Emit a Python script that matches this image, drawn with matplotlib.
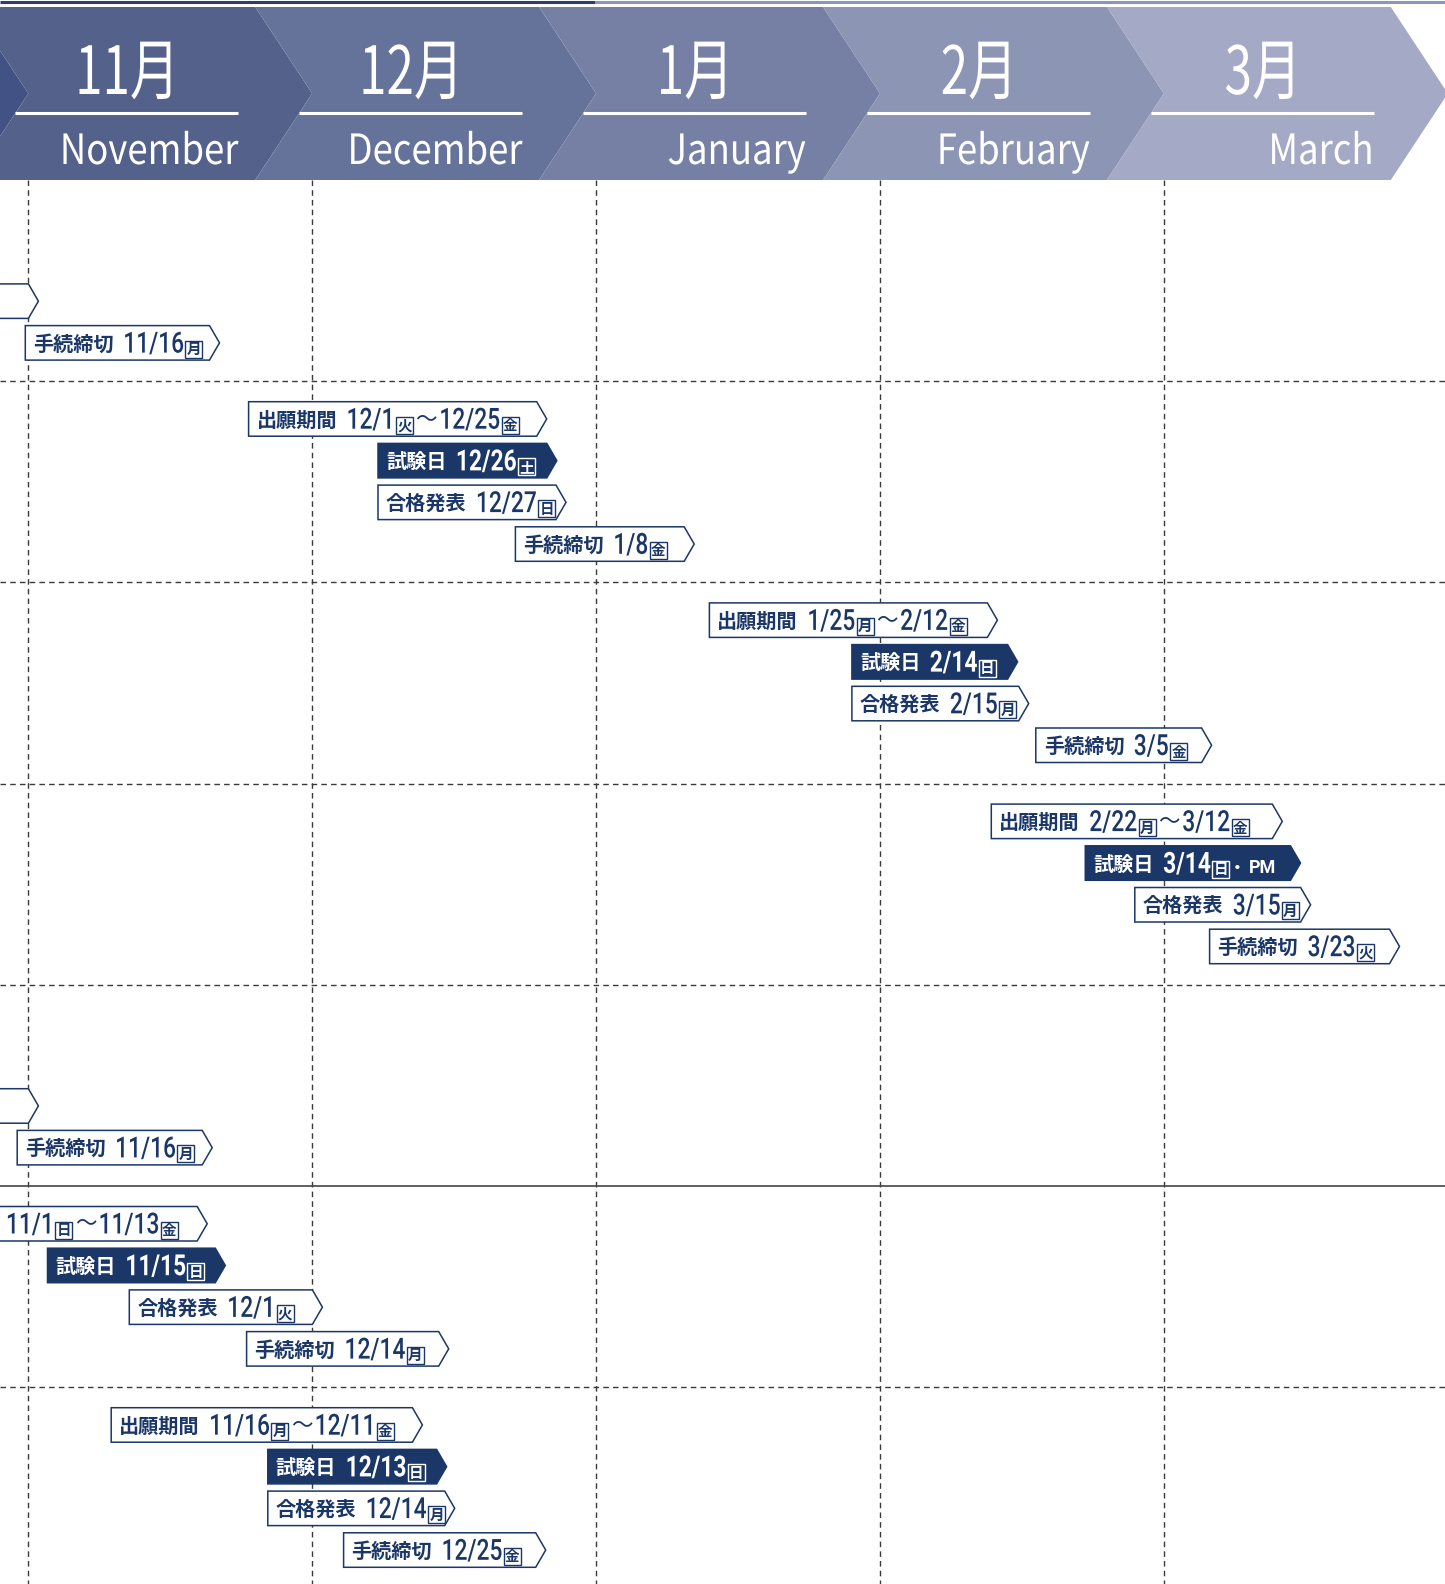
import matplotlib
matplotlib.use('Agg')
import matplotlib.pyplot as plt
from matplotlib.patches import Polygon, Rectangle
from matplotlib.patheffects import AbstractPathEffect
from matplotlib.transforms import Affine2D
from matplotlib.font_manager import FontProperties

# ---------------- data ----------------
months_jp = ['11月', '12月', '1月', '2月', '3月']
months_en = ['November', 'December', 'January', 'February', 'March']
kinds = ['出願期間', '試験日', '合格発表', '手続締切']

# (row, kind, [(date, weekday), ...], suffix)
events = [
    (0, '合格発表', None, None),
    (0, '手続締切', [('11/16', '月')], None),
    (1, '出願期間', [('12/1', '火'), ('12/25', '金')], None),
    (1, '試験日', [('12/26', '土')], None),
    (1, '合格発表', [('12/27', '日')], None),
    (1, '手続締切', [('1/8', '金')], None),
    (2, '出願期間', [('1/25', '月'), ('2/12', '金')], None),
    (2, '試験日', [('2/14', '日')], None),
    (2, '合格発表', [('2/15', '月')], None),
    (2, '手続締切', [('3/5', '金')], None),
    (3, '出願期間', [('2/22', '月'), ('3/12', '金')], None),
    (3, '試験日', [('3/14', '日')], 'PM'),
    (3, '合格発表', [('3/15', '月')], None),
    (3, '手続締切', [('3/23', '火')], None),
    (4, '合格発表', None, None),
    (4, '手続締切', [('11/16', '月')], None),
    (5, '出願期間', [('11/1', '日'), ('11/13', '金')], None),
    (5, '試験日', [('11/15', '日')], None),
    (5, '合格発表', [('12/1', '火')], None),
    (5, '手続締切', [('12/14', '月')], None),
    (6, '出願期間', [('11/16', '月'), ('12/11', '金')], None),
    (6, '試験日', [('12/13', '日')], None),
    (6, '合格発表', [('12/14', '月')], None),
    (6, '手続締切', [('12/25', '金')], None),
]

# ---------------- layout (pixels) ----------------
box_x = [
    (-300, 38.4), (25.3, 219.5),
    (248.6, 546.7), (378.0, 556.8), (378.0, 566.0), (515.4, 694.2),
    (709.4, 997.4), (851.9, 1017.6), (851.9, 1028.7), (1035.8, 1211.6),
    (991.3, 1282.3), (1085.3, 1300.5), (1134.8, 1310.6), (1209.6, 1399.5),
    (-300, 38.4), (17.2, 212.2),
    (-92.0, 207.2), (47.5, 225.3), (129.3, 322.4), (246.6, 448.7),
    (111.2, 422.4), (267.8, 446.6), (267.8, 454.7), (343.6, 545.7),
]

W_PX, H_PX = 1445, 1584
X0, MW = 28.3, 283.9
HEAD_T, HEAD_B, HEAD_MID, DEPTH = 7, 180, 93.5, 57
ROW0, ROWH = 180.0, 201.2
BOX_H, ARROW = 34.5, 10

NAVY = '#1b3768'
HEAD_COLORS = ['#435285', '#54618a', '#65739b', '#7680a5', '#8c95b4', '#a4a9c6']
GRID = '#3a3a3a'
JP = 'Noto Sans CJK JP'
NUM = 'Roboto'
NUM_SIZE, NUM_SY = 16.4, 1.28   # condensed look: smaller font stretched vertically


class Stretch(AbstractPathEffect):
    """Draw glyphs stretched vertically about the baseline (gives a condensed face)."""
    def __init__(self, sy):
        super().__init__()
        self.sy = sy

    def draw_path(self, renderer, gc, tpath, affine, rgbFace=None):
        t = Affine2D().scale(1, self.sy) + affine
        renderer.draw_path(gc, tpath, t, rgbFace)


fig = plt.figure(figsize=(W_PX / 100, H_PX / 100), dpi=100)
ax = fig.add_axes([0, 0, 1, 1])
ax.set_xlim(0, W_PX)
ax.set_ylim(H_PX, 0)
ax.axis('off')
renderer = fig.canvas.get_renderer()


def text_w(s, fp):
    w, h, d = renderer.get_text_width_height_descent(s, fp, ismath=False)
    return w


# top border line
ax.plot([0, 595], [1.5, 1.5], color='#2f3d6e', lw=2.2, solid_capstyle='butt')
ax.plot([595, W_PX], [1.5, 1.5], color='#8d96b8', lw=2.2, solid_capstyle='butt')

# header chevrons
for i in range(-1, len(months_jp)):
    s = X0 + i * MW
    e = s + MW
    pts = [(s - DEPTH, HEAD_T), (e - DEPTH, HEAD_T), (e, HEAD_MID),
           (e - DEPTH, HEAD_B), (s - DEPTH, HEAD_B), (s, HEAD_MID)]
    ax.add_patch(Polygon(pts, closed=True, fc=HEAD_COLORS[i + 1], ec='none', zorder=1))
    if i < 0:
        continue
    ax.text(s + 99, 94, months_jp[i], family=JP, size=35.5, color='white',
            ha='center', va='baseline', zorder=2, path_effects=[Stretch(1.35)])
    ax.plot([s - 13, s + 210], [113, 113], color='white', lw=2.2, zorder=2,
            solid_capstyle='butt')
    ax.text(s + 210, 164, months_en[i], family=JP, size=26.3, color='white',
            ha='right', va='baseline', zorder=2, path_effects=[Stretch(1.143)])

# grid
for i in range(len(months_jp)):
    ax.plot([X0 + i * MW] * 2, [HEAD_B, H_PX], color=GRID, lw=1.0,
            dashes=(4, 3), zorder=0.5)
for k in range(1, 7):
    y = ROW0 + k * ROWH
    if k == 5:
        ax.plot([0, W_PX], [y, y], color='#444444', lw=1.2, zorder=0.5)
    else:
        ax.plot([0, W_PX], [y, y], color=GRID, lw=1.0, dashes=(4, 3), zorder=0.5)

fp_lab = FontProperties(family=JP, weight='bold', size=14.5)
fp_wd = FontProperties(family=JP, weight='bold', size=10.5)
fp_tilde = FontProperties(family=JP, size=15.5)

for (row, kind, segs, suffix), (L, R) in zip(events, box_x):
    slot = kinds.index(kind)
    T = ROW0 + row * ROWH + 20.5 + 41.7 * slot
    filled = kind == '試験日'
    fc = NAVY if filled else 'white'
    tc = 'white' if filled else NAVY
    pts = [(L, T), (R - ARROW, T), (R, T + BOX_H / 2), (R - ARROW, T + BOX_H), (L, T + BOX_H)]
    ax.add_patch(Polygon(pts, closed=True, fc=fc, ec=NAVY, lw=1.1, zorder=3))
    if segs is None:
        continue
    x = L + 8
    if x >= 0:
        ax.text(x, T + BOX_H / 2 + 1, kind, fontproperties=fp_lab, color=tc,
                ha='left', va='center', zorder=4)
    x += text_w(kind, fp_lab) + 9.5
    fp_num = FontProperties(family=NUM, weight='bold' if filled else 'medium', size=NUM_SIZE)
    for j, (d, wd) in enumerate(segs):
        if j > 0:
            ax.text(x + 1, T + 17, '〜', fontproperties=fp_tilde, color=tc,
                    ha='left', va='center', zorder=4)
            x += 25
        ax.text(x, T + 27, d, fontproperties=fp_num, color=tc, ha='left',
                va='baseline', zorder=4, path_effects=[Stretch(NUM_SY)])
        x += text_w(d, fp_num) + 1.5
        ax.add_patch(Rectangle((x, T + 15), 17, 17, fill=False, ec=tc,
                               lw=1.0, zorder=4))
        ax.text(x + 8.5, T + 23.5, wd, fontproperties=fp_wd, color=tc,
                ha='center', va='center', zorder=5)
        x += 18.5
    if suffix:
        ax.text(x + 6, T + 22, '・', fontproperties=FontProperties(family=JP, weight='bold', size=12),
                color=tc, ha='center', va='center', zorder=4)
        ax.text(x + 18, T + 27, suffix, fontproperties=FontProperties(family=NUM, weight='bold', size=13),
                color=tc, ha='left', va='baseline', zorder=4)

fig.savefig('out.png', dpi=100)
